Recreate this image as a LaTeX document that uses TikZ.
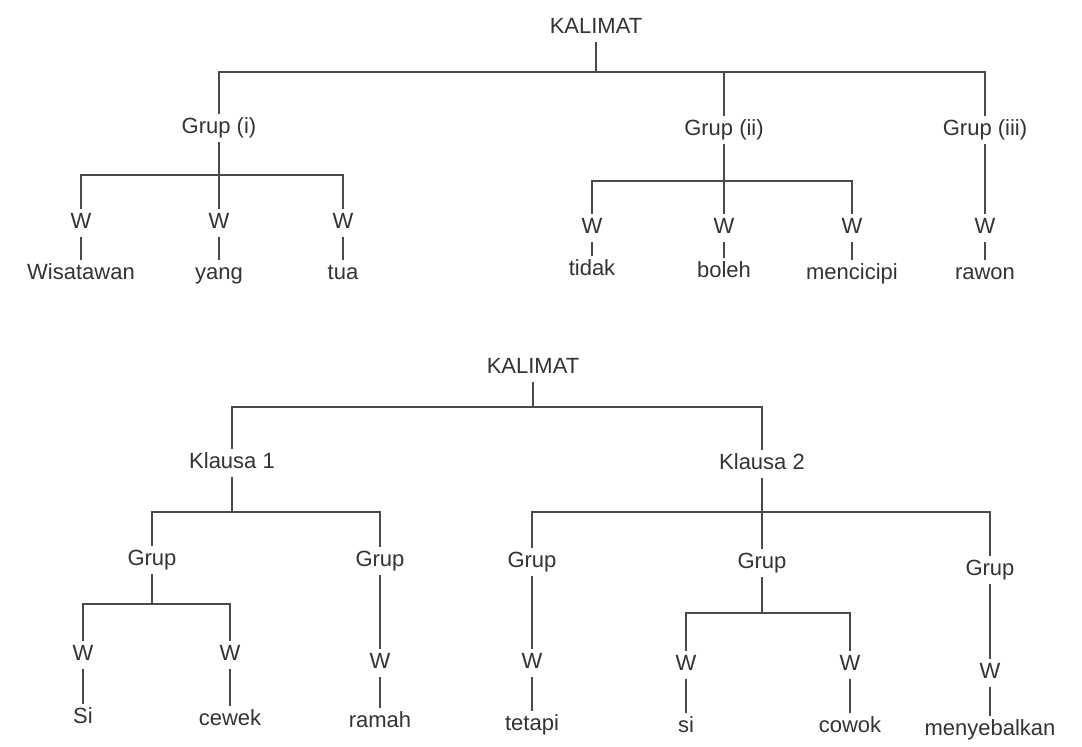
\documentclass[tikz,border=0pt]{standalone}
\usepackage{fontspec}
\setmainfont{Liberation Sans}
\definecolor{txt}{HTML}{333333}
\definecolor{lnc}{HTML}{4A4A4A}
\begin{document}
\begin{tikzpicture}[x=0.5pt,y=-0.5pt,
  lbl/.style={font=\fontsize{11}{13}\selectfont, text=txt, inner sep=2pt, text height=8pt, text depth=2pt},
  ln/.style={draw=lnc, line width=0.7pt}]
\useasboundingbox[fill=white] (0,0) rectangle (1082,747);
% ---------- top tree ----------
\node[lbl] (K1) at (596,28) {KALIMAT};
\node[lbl] (G1) at (219,128) {Grup (i)};
\node[lbl] (G2) at (724,130) {Grup (ii)};
\node[lbl] (G3) at (985,130) {Grup (iii)};
\node[lbl] (W11) at (81,223) {W};
\node[lbl] (W12) at (219,223) {W};
\node[lbl] (W13) at (343,223) {W};
\node[lbl] (W21) at (592,228) {W};
\node[lbl] (W22) at (724,228) {W};
\node[lbl] (W23) at (852,228) {W};
\node[lbl] (W31) at (985,228) {W};
\node[lbl] (T11) at (81,274) {Wisatawan};
\node[lbl] (T12) at (219,274) {yang};
\node[lbl] (T13) at (343,274) {tua};
\node[lbl] (T21) at (592,270) {tidak};
\node[lbl] (T22) at (724,272) {boleh};
\node[lbl] (T23) at (852,274) {mencicipi};
\node[lbl] (T31) at (985,274) {rawon};
\coordinate (b0) at (596,72);
\coordinate (b1) at (219,175);
\coordinate (b2) at (724,181);
\draw[ln] (K1) -- (b0);
\draw[ln] (G1.north) |- (b0) -| (G3.north);
\draw[ln] (G2.north) -- (G2.north |- b0);
\draw[ln] (G1) -- (W12);
\draw[ln] (W11.north) |- (b1) -| (W13.north);
\draw[ln] (G2) -- (W22);
\draw[ln] (W21.north) |- (b2) -| (W23.north);
\draw[ln] (G3) -- (W31);
\foreach \a/\b in {W11/T11,W12/T12,W13/T13,W21/T21,W22/T22,W23/T23,W31/T31}
  \draw[ln] (\a) -- (\b);
% ---------- bottom tree ----------
\node[lbl] (K2) at (533,368) {KALIMAT};
\node[lbl] (KL1) at (232,463) {Klausa 1};
\node[lbl] (KL2) at (762,464) {Klausa 2};
\node[lbl] (GA) at (152,560) {Grup};
\node[lbl] (GB) at (380,561) {Grup};
\node[lbl] (GC) at (532,562) {Grup};
\node[lbl] (GD) at (762,563) {Grup};
\node[lbl] (GE) at (990,570) {Grup};
\node[lbl] (WA1) at (83,655) {W};
\node[lbl] (WA2) at (230,655) {W};
\node[lbl] (WB) at (380,663) {W};
\node[lbl] (WC) at (532,663) {W};
\node[lbl] (WD1) at (686,665) {W};
\node[lbl] (WD2) at (850,665) {W};
\node[lbl] (WE) at (990,673) {W};
\node[lbl] (SA1) at (83,718) {Si};
\node[lbl] (SA2) at (230,720) {cewek};
\node[lbl] (SB) at (380,722) {ramah};
\node[lbl] (SC) at (532,725) {tetapi};
\node[lbl] (SD1) at (686,727) {si};
\node[lbl] (SD2) at (850,727) {cowok};
\node[lbl] (SE) at (990,730) {menyebalkan};
\coordinate (c0) at (533,407);
\coordinate (c1) at (232,512);
\coordinate (c2) at (762,512);
\coordinate (c3) at (152,604);
\coordinate (c4) at (762,613);
\draw[ln] (K2) -- (c0);
\draw[ln] (KL1.north) |- (c0) -| (KL2.north);
\draw[ln] (KL1) -- (c1);
\draw[ln] (GA.north) |- (c1) -| (GB.north);
\draw[ln] (KL2) -- (GD);
\draw[ln] (GC.north) |- (c2) -| (GE.north);
\draw[ln] (GA) -- (c3);
\draw[ln] (WA1.north) |- (c3) -| (WA2.north);
\draw[ln] (GD) -- (c4);
\draw[ln] (WD1.north) |- (c4) -| (WD2.north);
\draw[ln] (GB) -- (WB);
\draw[ln] (GC) -- (WC);
\draw[ln] (GE) -- (WE);
\foreach \a/\b in {WA1/SA1,WA2/SA2,WB/SB,WC/SC,WD1/SD1,WD2/SD2,WE/SE}
  \draw[ln] (\a) -- (\b);
\end{tikzpicture}
\end{document}
